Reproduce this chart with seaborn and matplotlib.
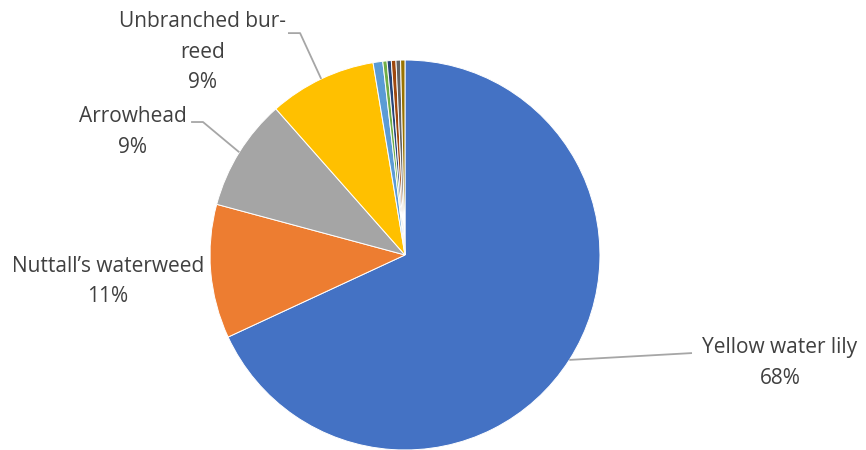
import numpy as np
import matplotlib
matplotlib.use("Agg")
from matplotlib import pyplot as plt
import seaborn as sns

species = ["Yellow water lily", "Nuttall\u2019s waterweed", "Arrowhead", "Unbranched bur-reed",
           "Species E", "Species F", "Species G", "Species H", "Species I", "Species J"]
share = [68.1, 11.1, 9.3, 8.9, 0.8, 0.35, 0.35, 0.38, 0.38, 0.36]
colors = ["#4472C4", "#ED7D31", "#A5A5A5", "#FFC000", "#5B9BD5",
          "#70AD47", "#264478", "#9E480E", "#636363", "#997300"]
label_text = ["Yellow water lily", "Nuttall\u2019s waterweed", "Arrowhead", "Unbranched bur-\nreed"]

sns.set_style("white")
plt.rcParams['font.family'] = ['Open Sans', 'DejaVu Sans']

fig = plt.figure(figsize=(8.66, 4.5), dpi=100)
ax = fig.add_axes([0.2425, 0.0, 0.4503, 0.8667])
wedges, _ = ax.pie(share, colors=colors, startangle=90, counterclock=False,
                   radius=1.0, wedgeprops=dict(edgecolor="white", linewidth=0.7))
ax.set_xlim(-1, 1)
ax.set_ylim(-1, 1)
ax.set_aspect("equal")
ax.axis("off")

total = sum(share)
# text block centers and leader line geometry (data units of the pie)
text_pos = [(1.923, -0.555), (-1.523, -0.135), (-1.395, 0.630), (-1.036, 1.040)]
leader = [[(1.472, -0.503)],
          None,
          [(-1.097, 0.682), (-1.036, 0.682)],
          [(-0.600, 1.138), (-0.538, 1.138)]]

for i, lab in enumerate(label_text):
    w = wedges[i]
    pct = round(share[i] / total * 100)
    ax.text(text_pos[i][0], text_pos[i][1], f"{lab}\n{pct}%", ha="center", va="center",
            multialignment="center", fontsize=15, color="#404040", linespacing=1.6,
            clip_on=False)
    if leader[i] is not None:
        mid = np.deg2rad((w.theta1 + w.theta2) / 2)
        pts = leader[i] + [(np.cos(mid), np.sin(mid))]
        xs, ys = zip(*pts)
        ax.plot(xs, ys, color="#A6A6A6", lw=1.3, clip_on=False, solid_capstyle="butt")

fig.savefig("out.png", dpi=100)
